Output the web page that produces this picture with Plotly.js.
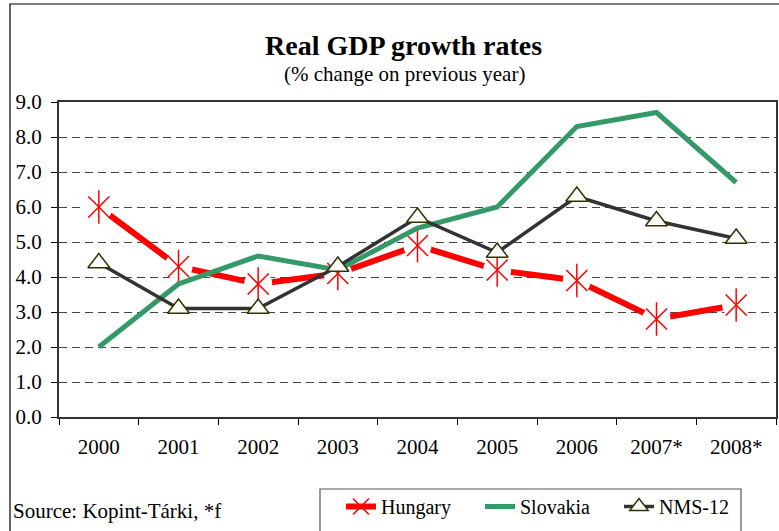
<!DOCTYPE html>
<html><head><meta charset="utf-8">
<script src="https://cdn.plot.ly/plotly-3.0.1.min.js"></script>
<style>html,body{margin:0;padding:0;background:#fff}</style>
</head><body>
<div id="chart" style="width:779px;height:531px"></div>
<script>
var years = ['2000','2001','2002','2003','2004','2005','2006','2007*','2008*'];
var hungary = [6.0,4.3,3.8,4.1,4.9,4.2,3.9,2.8,3.2];
var slovakia = [2.0,3.8,4.6,4.2,5.4,6.0,8.3,8.7,6.7];
var nms12 = [4.4,3.1,3.1,4.3,5.7,4.7,6.3,5.6,5.1];
var yTicks = [0,1,2,3,4,5,6,7,8,9];

var FONT = 'Liberation Serif';

var traces = [
  {x: years, y: hungary, name: 'Hungary', mode: 'lines+markers',
   line: {color: '#ff0000', width: 6},
   marker: {symbol: 'x-thin-open', size: 20, color: '#ff0000', line: {color: '#ff0000', width: 1.5}}},
  {x: years, y: hungary, mode: 'markers', showlegend: false, hoverinfo: 'skip',
   marker: {symbol: 'circle', size: 28, color: '#ffffff', line: {width: 0}}},
  {x: years, y: hungary, mode: 'markers', showlegend: false, hoverinfo: 'skip',
   marker: {symbol: 'x-thin-open', size: 21, color: '#ff0000', line: {color: '#ff0000', width: 1.5}}},
  {x: years, y: hungary, mode: 'markers', showlegend: false, hoverinfo: 'skip',
   marker: {symbol: 'line-ns-open', size: 24, color: '#ff0000', line: {color: '#ff0000', width: 1.5}}},
  {x: years, y: slovakia, name: 'Slovakia', mode: 'lines',
   line: {color: '#339966', width: 5}},
  {x: years, y: nms12, name: 'NMS-12', mode: 'lines+markers',
   line: {color: '#333333', width: 3.5},
   marker: {symbol: 'triangle-up', size: 19, color: '#ffffff', line: {color: '#333300', width: 1.5}}}
];

var layout = {
  width: 779, height: 531,
  margin: {l: 59, r: 3, t: 102, b: 114},
  paper_bgcolor: '#ffffff', plot_bgcolor: '#ffffff',
  font: {family: FONT, color: '#000', size: 20},
  showlegend: true,
  legend: {orientation: 'h', xref: 'container', yref: 'container',
           x: 341/779, xanchor: 'left', y: (531-487)/531, yanchor: 'top',
           entrywidth: 94, entrywidthmode: 'pixels',
           font: {family: FONT, size: 20, color: '#000'}, bgcolor: 'rgba(0,0,0,0)',
           borderwidth: 0, traceorder: 'normal'},
  xaxis: {type: 'category', range: [-0.5, 8.5], tickson: 'boundaries',
          ticks: 'outside', ticklen: 6, tickcolor: '#000', tickwidth: 1,
          showline: true, mirror: true, linecolor: '#333', linewidth: 2,
          showgrid: false, zeroline: false, fixedrange: true,
          ticklabelstandoff: 10,
          tickfont: {family: FONT, size: 21, color: '#000'}},
  yaxis: {range: [0, 9], tickvals: yTicks, tickformat: '.1f',
          ticks: 'outside', ticklen: 6, tickcolor: '#000', tickwidth: 1,
          showline: true, mirror: true, linecolor: '#333', linewidth: 2,
          showgrid: true, gridcolor: '#444', gridwidth: 1, griddash: '8px,5px',
          zeroline: false, fixedrange: true, ticklabelstandoff: 5,
          tickfont: {family: FONT, size: 21, color: '#000'}},
  annotations: [
    {text: '<b>Real GDP growth rates</b>', xref: 'paper', yref: 'paper',
     x: (403-59)/717, y: (417-45.5)/315, xanchor: 'center', yanchor: 'middle', showarrow: false,
     font: {family: FONT, size: 28, color: '#000'}},
    {text: '(% change on previous year)', xref: 'paper', yref: 'paper',
     x: (404-59)/717, y: (417-73.5)/315, xanchor: 'center', yanchor: 'middle', showarrow: false,
     font: {family: FONT, size: 21, color: '#000'}},
    {text: 'Source: Kopint-Tárki, *f', xref: 'paper', yref: 'paper',
     x: (11-59)/717, y: (417-511)/315, xanchor: 'left', yanchor: 'middle', showarrow: false,
     font: {family: FONT, size: 21, color: '#000'}}
  ],
  shapes: [
    {type: 'rect', xref: 'paper', yref: 'paper', x0: (10-59)/717, x1: 1.2, y0: -0.6, y1: (417-4)/315,
     line: {color: '#000', width: 1.2}, fillcolor: 'rgba(0,0,0,0)', layer: 'below'},
    {type: 'rect', xref: 'paper', yref: 'paper', x0: (320-59)/717, x1: (741-59)/717, y0: -0.6, y1: (417-489)/315,
     line: {color: '#555', width: 1.2}, fillcolor: 'rgba(0,0,0,0)', layer: 'below'}
  ]
};

Plotly.newPlot('chart', traces, layout, {displayModeBar: false, staticPlot: true});
</script>
</body></html>
